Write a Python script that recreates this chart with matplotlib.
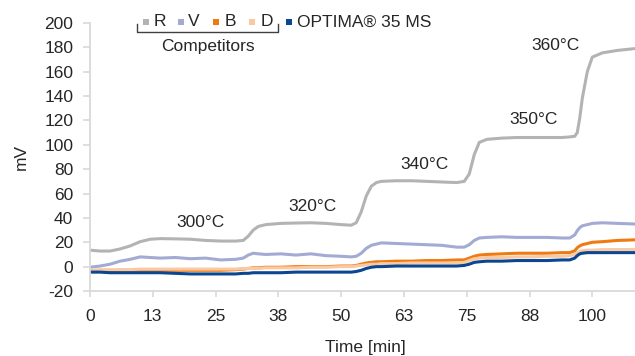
import matplotlib
matplotlib.use("Agg")
import matplotlib.pyplot as plt
from matplotlib.patches import Rectangle
from matplotlib.lines import Line2D

plt.rcParams['font.family'] = ['Liberation Sans', 'DejaVu Sans']

# Time axis (minutes) shared by all detector traces
time_min = [0, 2, 4, 6, 8, 10, 12, 14, 17, 20, 23, 26, 29, 30.5, 31.5, 32.5, 33.5,
            35, 38, 41, 44, 47, 50, 52, 53, 54, 55, 56, 57, 58, 61, 64, 67, 70, 73,
            74.5, 75.5, 76.5, 77.5, 79, 82, 85, 88, 91, 94, 95.5, 96.5, 97, 97.5,
            98, 99, 100, 102, 105, 108.5]

# Column bleed signal (mV)
r_vals = [13.5, 12.8, 12.8, 14.5, 17, 20.5, 22.5, 23, 22.8, 22.5, 21.5, 21, 21,
          21.5, 25, 30, 33, 34.5, 35.5, 35.8, 36, 35.5, 34.5, 34, 36, 45, 58, 66,
          69, 70, 70.5, 70.5, 70, 69.5, 69, 70, 76, 92, 102, 104.5, 105.5, 106,
          106, 106, 106, 106.5, 107, 110, 122, 138, 160, 172, 175.5, 177.5, 179]
v_vals = [-0.5, 0.5, 2, 4.5, 6, 8, 7.5, 7, 7.5, 6.5, 7, 5.5, 6, 7, 9.5, 11, 10.5,
          10, 10.5, 9.5, 10.5, 9, 8.5, 8, 8.5, 11, 15, 17.5, 18.5, 19.5, 19, 18.5,
          18, 17.5, 16, 16, 18, 21.5, 23.5, 24, 24.5, 24, 24, 24, 23.5, 23.5, 26,
          29.5, 32, 33.5, 34.5, 35.5, 36, 35.5, 35]
b_vals = [-4, -3.5, -3.5, -3, -3, -3, -3, -3, -3, -3, -3, -3, -2.5, -2, -1.5, -1,
          -1, -0.5, -0.5, 0, 0, 0, 0.5, 0.5, 1, 2, 3, 3.5, 4, 4, 4.5, 4.5, 5, 5,
          5.5, 5.5, 7, 8.5, 9.5, 10, 10.5, 11, 11, 11, 11.5, 11.5, 13, 15.5, 17,
          18, 19, 20, 20.5, 21.5, 22]
d_vals = [-3, -2.5, -2.5, -2.5, -2.5, -2, -2, -2, -2, -2, -2, -2, -2, -1.5, -1.5,
          -1.5, -1.5, -1, -1, -1, -0.5, -0.5, 0, 0, 0.5, 1, 1.5, 2, 2, 2.5, 2.5,
          3, 3, 3, 3, 3.5, 5, 6.5, 7, 7.5, 7.5, 8, 8, 8.5, 8.5, 9, 10, 11.5, 12.5,
          13, 13.5, 13.5, 14, 14, 14]
optima_vals = [-4.5, -4.5, -5, -5, -5, -5, -5, -5, -5.5, -6, -6, -6, -6, -5.5,
               -5.5, -5, -5, -5, -5, -4.5, -4.5, -4.5, -4.5, -4.5, -4, -3, -1.5,
               -0.5, 0, 0, 0.5, 0.5, 0.5, 0.5, 0.5, 1, 2, 3.5, 4, 4.5, 4.5, 5, 5,
               5, 5.5, 5.5, 7, 9, 10.5, 11, 11.5, 11.5, 11.5, 11.5, 11.5]

series_names = ["R", "V", "B", "D", "OPTIMA® 35 MS"]
series_vals = [r_vals, v_vals, b_vals, d_vals, optima_vals]
series_colors = ["#b3b3b3", "#a3aad3", "#f07a12", "#f9c9a3", "#0b4690"]

# Oven temperature annotations (label, time, mV)
temp_labels = ["300°C", "320°C", "340°C", "350°C", "360°C"]
temp_x = [21.9, 44.2, 66.5, 88.3, 92.6]
temp_y = [36.6, 49.7, 84.0, 120.6, 181.2]

x_ticks = [0, 12.5, 25, 37.5, 50, 62.5, 75, 87.5, 100]
x_tick_labels = ["0", "13", "25", "38", "50", "63", "75", "88", "100"]
y_ticks = [-20, 0, 20, 40, 60, 80, 100, 120, 140, 160, 180, 200]

W, H = 635, 356
TEXT = "#262626"
AXIS = "#d9d9d9"
FS = 12.5

fig = plt.figure(figsize=(W / 100, H / 100), dpi=100)
ax = fig.add_axes([90 / W, 1 - 291 / H, (W - 90) / W, (291 - 23) / H])

for vals, col in zip(series_vals, series_colors):
    ax.plot(time_min, vals, color=col, lw=2.2, solid_capstyle="butt")

for lab, tx, ty in zip(temp_labels, temp_x, temp_y):
    ax.text(tx, ty, lab, ha="center", va="center", fontsize=FS, color=TEXT)

ax.set_xlim(0, 108.5)
ax.set_ylim(-20, 200)
ax.set_xticks(x_ticks)
ax.set_xticklabels(x_tick_labels)
ax.set_yticks(y_ticks)
ax.set_yticklabels([str(v) for v in y_ticks])

for side in ("top", "right"):
    ax.spines[side].set_visible(False)
for side in ("left", "bottom"):
    ax.spines[side].set_color(AXIS)
    ax.spines[side].set_linewidth(1.3)

ax.tick_params(axis="y", direction="out", length=5, width=1.2, color=AXIS,
               labelsize=FS, labelcolor=TEXT, pad=7)
ax.tick_params(axis="x", direction="out", length=4, width=1.2, color=AXIS,
               labelsize=FS, labelcolor=TEXT, pad=9)

ax.set_xlabel("Time [min]", fontsize=FS, color=TEXT)
ax.xaxis.set_label_coords((365 - 90) / (W - 90), (291 - 340) / (291 - 23))
ax.set_ylabel("mV", fontsize=FS, color=TEXT, va="center")
ax.yaxis.set_label_coords((21 - 90) / (W - 90), 0.5)

# Legend drawn in figure pixel space
def fx(px):
    return px / W

def fy(py):
    return 1 - py / H

sq_x = [145.7, 181, 216, 252, 288.5]
txt_x = [154, 188, 225, 261, 296.7]
leg_y = 22
for name, col, sx, tx in zip(series_names, series_colors, sq_x, txt_x):
    fig.patches.append(Rectangle((fx(sx - 3), fy(leg_y + 3)), 6 / W, 6 / H,
                                 transform=fig.transFigure, facecolor=col,
                                 edgecolor="none"))
    fig.text(fx(tx), fy(leg_y), name, ha="left", va="center", fontsize=FS,
             color=TEXT)

bracket_x = [137.3, 137.3, 277.7, 277.7]
bracket_y = [24, 32.3, 32.3, 24]
fig.lines.append(Line2D([fx(v) for v in bracket_x], [fy(v) for v in bracket_y],
                        transform=fig.transFigure, color="#404040", lw=1.0))
fig.text(fx(208), fy(47), "Competitors", ha="center", va="center", fontsize=FS,
         color=TEXT)

fig.savefig("out.png", dpi=100)
